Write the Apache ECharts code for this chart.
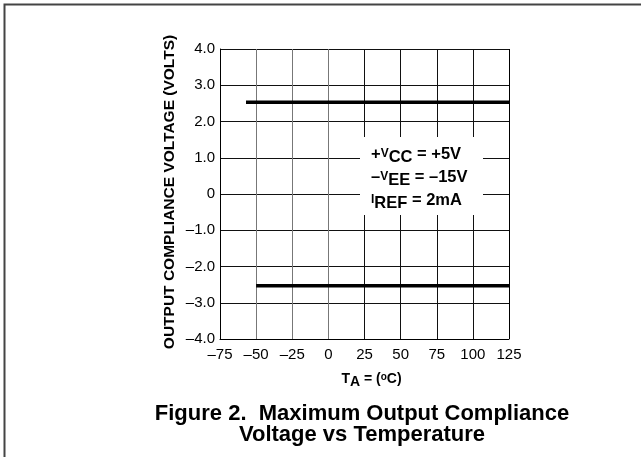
<!DOCTYPE html>
<html>
<head>
<meta charset="utf-8">
<script src="https://cdn.jsdelivr.net/npm/echarts@6/dist/echarts.min.js"></script>
<style>
html,body{margin:0;padding:0;background:#fff;}
#c{width:641px;height:457px;}
</style>
</head>
<body>
<div id="c"></div>
<script>
// ---- data ----
const xRange = [-75, 125];
const yRange = [-4, 4];
const upperTemps = [-57, 125];
const upperVolts = [2.53, 2.53];
const lowerTemps = [-50, 125];
const lowerVolts = [-2.53, -2.53];
const conditionLines = [
  ['+', 'V', 'CC', ' = +5V'],
  ['\u2013', 'V', 'EE', ' = \u201315V'],
  ['', 'I', 'REF', ' = 2mA']
];
const yTitle = 'OUTPUT COMPLIANCE VOLTAGE (VOLTS)';
const captionLines = ['Figure 2.  Maximum Output Compliance', 'Voltage vs Temperature'];

const FONT = 'Liberation Sans, Arial, Helvetica, sans-serif';
const dash = v => (v < 0 ? '\u2013' + Math.abs(v) : String(v));

const chart = echarts.init(document.getElementById('c'), null, {renderer: 'canvas'});

const condText = conditionLines.map(p => '{n|' + (p[0] || '') + '}{v|' + p[1] + '}{s|' + p[2] + '}{n|' + p[3] + '}').join('\n');

const option = {
  backgroundColor: '#fff',
  animation: false,
  grid: {left: 220, right: 132, top: 49, bottom: 118, show: false},
  xAxis: {
    type: 'value', min: xRange[0], max: xRange[1], interval: 25,
    axisLine: {show: true, onZero: false, lineStyle: {color: '#000', width: 1}},
    axisTick: {show: false},
    splitLine: {show: true, lineStyle: {color: ['#000', '#777', '#777', '#777', '#111', '#111', '#111', '#111', '#000'], width: 1}},
    axisLabel: {
      color: '#000', fontFamily: FONT, fontSize: 15, margin: 8,
      formatter: v => dash(v)
    },
    name: '{t|T}{a|A}{t| = (}{o|o}{t|C)}',
    nameLocation: 'middle', nameGap: 30,
    nameTextStyle: {
      padding: [0, 0, 0, 14],
      rich: {
        t: {fontFamily: FONT, fontSize: 14, fontWeight: 'bold', color: '#000', lineHeight: 20, verticalAlign: 'middle'},
        a: {fontFamily: FONT, fontSize: 14, fontWeight: 'bold', color: '#000', lineHeight: 14, verticalAlign: 'bottom'},
        o: {fontFamily: FONT, fontSize: 10, fontWeight: 'bold', color: '#000', lineHeight: 10, verticalAlign: 'top', padding: [3, 0, 0, 0]}
      }
    }
  },
  yAxis: {
    type: 'value', min: yRange[0], max: yRange[1], interval: 1,
    axisLine: {show: true, onZero: false, lineStyle: {color: '#000', width: 1}},
    axisTick: {show: false},
    splitLine: {show: true, lineStyle: {color: '#111', width: 1}},
    axisLabel: {
      color: '#000', fontFamily: FONT, fontSize: 15, margin: 5,
      formatter: v => (v === 0 ? '0' : (v < 0 ? '\u2013' : '') + Math.abs(v).toFixed(1))
    },
    name: yTitle, nameLocation: 'middle', nameGap: 42, nameRotate: 90,
    nameTextStyle: {fontFamily: FONT, fontSize: 15.5, fontWeight: 'bold', color: '#000', padding: [0, 0, 0, 4]}
  },
  series: [
    {type: 'line', data: upperTemps.map((t, i) => [t, upperVolts[i]]), showSymbol: false, symbol: 'none',
     lineStyle: {color: '#000', width: 3.5}, z: 5},
    {type: 'line', data: lowerTemps.map((t, i) => [t, lowerVolts[i]]), showSymbol: false, symbol: 'none',
     lineStyle: {color: '#000', width: 3.5}, z: 5}
  ],
  title: {
    text: captionLines.join('\n'),
    left: 357, top: 398, textAlign: 'center',
    textStyle: {fontFamily: FONT, fontSize: 22, fontWeight: 'bold', color: '#000', lineHeight: 21}
  },
  graphic: [
    {type: 'polyline', shape: {points: [[4.5, 457], [4.5, 4.5], [641, 4.5]]},
     style: {stroke: '#444', lineWidth: 2, fill: null}, z: 20, silent: true},
    {type: 'rect', shape: {x: 360, y: 137, width: 123, height: 78}, style: {fill: '#fff'}, z: 10, silent: true},
    {type: 'text', left: 371, top: 143, z: 11, silent: true,
     style: {
       text: condText,
       rich: {
         n: {fontFamily: FONT, fontSize: 16.5, fontWeight: 'bold', fill: '#000', lineHeight: 23, verticalAlign: 'middle'},
         v: {fontFamily: FONT, fontSize: 12, fontWeight: 'bold', fill: '#000', lineHeight: 12, verticalAlign: 'top', padding: [5, 0, 0, 0]},
         s: {fontFamily: FONT, fontSize: 16.5, fontWeight: 'bold', fill: '#000', lineHeight: 16.5, verticalAlign: 'bottom'}
       }
     }}
  ]
};
chart.setOption(option);
</script>
</body>
</html>
